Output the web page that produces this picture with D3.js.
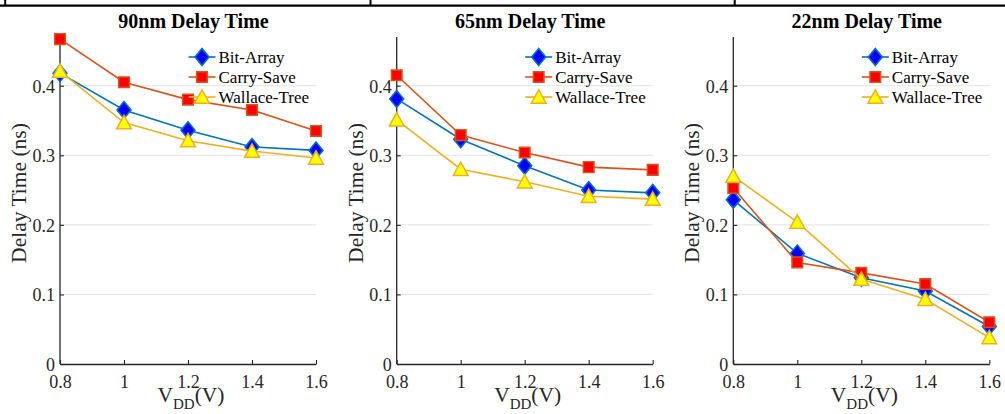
<!DOCTYPE html>
<html>
<head>
<meta charset="utf-8">
<script src="https://cdn.jsdelivr.net/npm/d3@7"></script>
<style>
  html, body { margin: 0; padding: 0; background: #fff; }
  svg { display: block; }
  svg text { font-family: "Liberation Serif", "DejaVu Serif", serif !important; fill: #262626; }
</style>
</head>
<body>
<svg id="chart" width="1005" height="414"></svg>
<script>
// Supply voltage sweep (V)
const vdd = [0.8, 1.0, 1.2, 1.4, 1.6];
const xTicks = [0.8, 1.0, 1.2, 1.4, 1.6];
const yTicks = [0, 0.1, 0.2, 0.3, 0.4];

// Delay time (ns) per multiplier architecture and technology node
const bitArray90   = [0.418, 0.365, 0.336, 0.312, 0.307];
const carrySave90  = [0.467, 0.405, 0.380, 0.365, 0.335];
const wallace90    = [0.421, 0.347, 0.321, 0.306, 0.296];

const bitArray65   = [0.381, 0.323, 0.285, 0.250, 0.246];
const carrySave65  = [0.415, 0.329, 0.304, 0.283, 0.279];
const wallace65    = [0.351, 0.280, 0.262, 0.241, 0.237];

const bitArray22   = [0.236, 0.159, 0.124, 0.105, 0.054];
const carrySave22  = [0.253, 0.146, 0.131, 0.115, 0.060];
const wallace22    = [0.270, 0.204, 0.122, 0.093, 0.038];

const seriesNames = ["Bit-Array", "Carry-Save", "Wallace-Tree"];
const panelTitles = ["90nm Delay Time", "65nm Delay Time", "22nm Delay Time"];
const panelData = [
  [bitArray90, carrySave90, wallace90],
  [bitArray65, carrySave65, wallace65],
  [bitArray22, carrySave22, wallace22]
];

const styles = [
  { line: "#0072BD", fill: "#0000FF", shape: "diamond" },
  { line: "#D95319", fill: "#FF0000", shape: "square" },
  { line: "#EDB120", fill: "#FFFF00", shape: "triangle" }
];

const svg = d3.select("#chart");

// table-style border along the top
const border = svg.append("g");
border.append("line").attr("x1", 0).attr("x2", 1005).attr("y1", 5.7).attr("y2", 5.7)
  .attr("stroke", "#000").attr("stroke-width", 2.2);
[5.2, 370.5, 734.7].forEach(x => {
  border.append("line").attr("x1", x).attr("x2", x).attr("y1", 0).attr("y2", 5.7)
    .attr("stroke", "#000").attr("stroke-width", 2);
});

const panelLeft = [60, 396.7, 733.3];
const plotW = 256;
const plotTop = 37, plotBottom = 364;

function markerPath(shape) {
  if (shape === "diamond") return "M0,-8.5L7,0L0,8.5L-7,0Z";
  if (shape === "square") return "M-5.3,-5.3L5.3,-5.3L5.3,5.3L-5.3,5.3Z";
  return "M0,-7.2L7.4,6.2L-7.4,6.2Z";
}

panelData.forEach((series, p) => {
  const left = panelLeft[p];
  const x = d3.scaleLinear().domain([0.8, 1.6]).range([left, left + plotW]);
  const y = d3.scaleLinear().domain([0, 0.47]).range([plotBottom, plotTop]);
  const g = svg.append("g");

  // horizontal grid
  g.append("g").selectAll("line").data(yTicks.filter(t => t > 0)).join("line")
    .attr("x1", x.range()[0]).attr("x2", x.range()[1])
    .attr("y1", d => y(d)).attr("y2", d => y(d))
    .attr("stroke", "#e3e3e3").attr("stroke-width", 1);

  // axes with inward ticks
  const fmt = d3.format("~g");
  const xAxis = g.append("g").attr("transform", `translate(0,${plotBottom})`)
    .call(d3.axisBottom(x).tickValues(xTicks).tickFormat(fmt)
      .tickSizeInner(-4).tickSizeOuter(0).tickPadding(11));
  const yAxis = g.append("g").attr("transform", `translate(${left},0)`)
    .call(d3.axisLeft(y).tickValues(yTicks).tickFormat(fmt)
      .tickSizeInner(-4).tickSizeOuter(0).tickPadding(5));
  [xAxis, yAxis].forEach(a => {
    a.attr("font-family", null).attr("font-size", null);
    a.select(".domain").attr("stroke", "#262626").attr("stroke-width", 1.3);
    a.selectAll(".tick line").attr("stroke", "#262626").attr("stroke-width", 1.1);
    a.selectAll(".tick text").attr("font-size", 18).attr("fill", "#262626");
  });
  yAxis.selectAll(".tick text").attr("dy", "0.35em");
  // vertical axis extends to the top of the plot area
  yAxis.select(".domain").attr("d", `M0,${plotBottom}V${plotTop}`);

  // series lines and markers
  series.forEach((vals, s) => {
    const st = styles[s];
    const pts = vdd.map((v, i) => [v, vals[i]]);
    g.append("path").datum(pts)
      .attr("d", d3.line().x(d => x(d[0])).y(d => y(d[1])))
      .attr("fill", "none").attr("stroke", st.line).attr("stroke-width", 1.6);
    g.append("g").selectAll("path").data(pts).join("path")
      .attr("transform", d => `translate(${x(d[0])},${y(d[1])})`)
      .attr("d", markerPath(st.shape))
      .attr("fill", st.fill).attr("stroke", st.line).attr("stroke-width", 1.5)
      .attr("stroke-linejoin", "miter");
  });

  // title
  g.append("text")
    .attr("x", left + plotW / 2 + 5.5).attr("y", 28)
    .attr("text-anchor", "middle").attr("font-size", 20).attr("font-weight", "bold")
    .style("fill", "#000").text(panelTitles[p]);

  // axis labels
  g.append("text")
    .attr("transform", `translate(${left - 34},193) rotate(-90)`)
    .attr("text-anchor", "middle").attr("font-size", 21.5)
    .text("Delay Time (ns)");
  const xl = g.append("text")
    .attr("x", left + plotW / 2 + 3).attr("y", 402)
    .attr("text-anchor", "middle").attr("font-size", 21.5);
  xl.append("tspan").text("V");
  xl.append("tspan").attr("font-size", 15).attr("dy", 7).text("DD");
  xl.append("tspan").attr("dy", -7).text("(V)");

  // legend
  const tx = left + plotW - 97.5;
  const legend = g.append("g");
  seriesNames.forEach((name, s) => {
    const st = styles[s];
    const ly = 57 + s * 20;
    legend.append("line").attr("x1", tx - 30).attr("x2", tx - 3)
      .attr("y1", ly).attr("y2", ly).attr("stroke", st.line).attr("stroke-width", 1.6);
    legend.append("path").attr("transform", `translate(${tx - 16.5},${ly})`)
      .attr("d", markerPath(st.shape))
      .attr("fill", st.fill).attr("stroke", st.line).attr("stroke-width", 1.5);
    legend.append("text").attr("x", tx).attr("y", ly).attr("dy", "0.35em")
      .attr("font-size", 17).style("fill", "#000").text(name);
  });
});
</script>
</body>
</html>
